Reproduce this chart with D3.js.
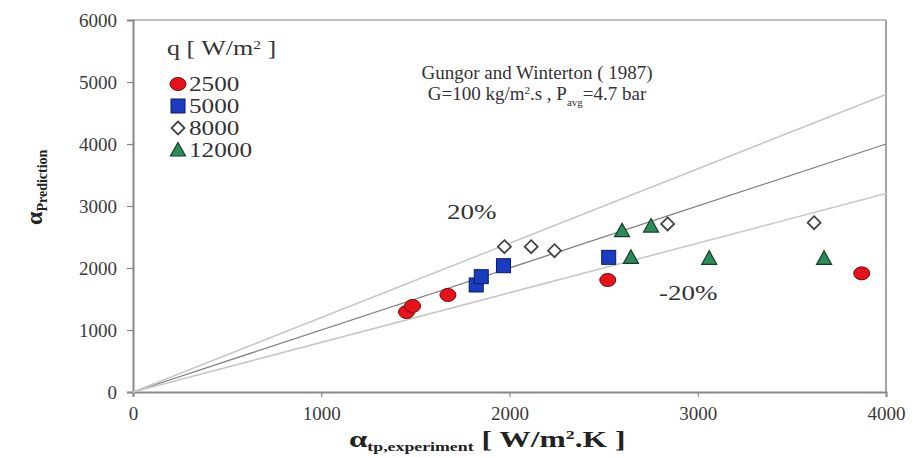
<!DOCTYPE html>
<html>
<head>
<meta charset="utf-8">
<script src="https://cdn.jsdelivr.net/npm/d3@7"></script>
<style>
  body { margin: 0; background: #fff; }
  svg text { font-family: "Liberation Serif", "DejaVu Serif", "Times New Roman", serif !important; }
</style>
</head>
<body>
<svg id="chart" width="914" height="457"></svg>
<script>
// ---- data ----
const xTicks = [0, 1000, 2000, 3000, 4000];
const yTicks = [0, 1000, 2000, 3000, 4000, 5000, 6000];
const seriesNames = ["2500", "5000", "8000", "12000"];
const q2500_x = [1453, 1485, 1673, 2522, 3871];
const q2500_y = [1290, 1387, 1565, 1806, 1914];
const q5000_x = [1823, 1850, 1968, 2527];
const q5000_y = [1726, 1860, 2037, 2172];
const q8000_x = [1973, 2115, 2239, 2840, 3618];
const q8000_y = [2344, 2344, 2279, 2710, 2731];
const q12000_x = [2598, 2752, 2645, 3061, 3671];
const q12000_y = [2602, 2677, 2172, 2156, 2156];
const refFactors = [1.0, 1.2, 0.8];

const FONT = "'Liberation Serif', 'DejaVu Serif', serif";
const svg = d3.select("#chart");
const L = 133, R = 886, T = 20, B = 392;
const x = d3.scaleLinear().domain([0, 4000]).range([L, R]);
const y = d3.scaleLinear().domain([0, 6000]).range([B, T]);

// frame (top & right)
svg.append("line").attr("x1", L).attr("x2", R).attr("y1", T).attr("y2", T)
  .attr("stroke", "#aaa").attr("stroke-width", 1.5);
svg.append("line").attr("x1", R).attr("x2", R).attr("y1", T).attr("y2", B)
  .attr("stroke", "#888").attr("stroke-width", 1.5);

// axes
const xAxis = svg.append("g").attr("transform", `translate(0,${B})`)
  .call(d3.axisBottom(x).tickValues(xTicks).tickSize(5).tickPadding(10).tickFormat(d3.format("d")));
const yAxis = svg.append("g").attr("transform", `translate(${L},0)`)
  .call(d3.axisLeft(y).tickValues(yTicks).tickSize(6).tickPadding(10).tickFormat(d3.format("d")));
[xAxis, yAxis].forEach(g => {
  g.attr("font-family", FONT);
  g.select(".domain").attr("stroke", "#888").attr("stroke-width", 2);
  g.selectAll(".tick line").attr("stroke", "#888").attr("stroke-width", 1.2);
  g.selectAll(".tick text").attr("fill", "#3a3a3a").style("font-size", "19px");
});

// reference lines
refFactors.forEach((f, i) => {
  svg.append("line")
    .attr("x1", x(0)).attr("y1", y(0))
    .attr("x2", x(4000)).attr("y2", y(4000 * f))
    .attr("stroke", i === 0 ? "#808080" : "#c8c8c8")
    .attr("stroke-width", i === 0 ? 1.3 : 1.6);
});

// markers
function drawMarker(g, type, cx, cy) {
  if (type === 0) {
    g.append("ellipse").attr("cx", cx).attr("cy", cy).attr("rx", 8).attr("ry", 6.5)
      .attr("fill", "#e8121a").attr("stroke", "#6a0a0a").attr("stroke-width", 1);
  } else if (type === 1) {
    g.append("rect").attr("x", cx - 7).attr("y", cy - 7).attr("width", 14).attr("height", 14)
      .attr("fill", "#1a3cc0").attr("stroke", "#0a1a60").attr("stroke-width", 1);
  } else if (type === 2) {
    const s = 6.5;
    g.append("path").attr("d", `M${cx},${cy - s}L${cx + s},${cy}L${cx},${cy + s}L${cx - s},${cy}Z`)
      .attr("fill", "#fff").attr("stroke", "#444").attr("stroke-width", 1.8);
  } else {
    const s = 7.5;
    g.append("path").attr("d", `M${cx},${cy - s}L${cx + s},${cy + s * 0.8}L${cx - s},${cy + s * 0.8}Z`)
      .attr("fill", "#2e8b57").attr("stroke", "#10402a").attr("stroke-width", 1.2);
  }
}
const sets = [[q2500_x, q2500_y], [q5000_x, q5000_y], [q8000_x, q8000_y], [q12000_x, q12000_y]];
const pts = svg.append("g");
sets.forEach((s, k) => {
  s[0].forEach((xv, i) => drawMarker(pts, k, x(xv), y(s[1][i])));
});

// stretched text helper (reference text is horizontally widened)
function stext(px, py, sx, size, fill) {
  return svg.append("g").attr("transform", `translate(${px},${py}) scale(${sx},1)`)
    .append("text").attr("x", 0).attr("y", 0).attr("fill", fill || "#333").style("font-size", size + "px");
}

// legend
stext(167, 55, 1.3, 20).html('q [ W/m<tspan baseline-shift="super" font-size="12px">2</tspan> ]');
seriesNames.forEach((n, i) => {
  const yy = 84 + i * 22;
  drawMarker(svg, i, 178, yy);
  stext(189, yy + 7, 1.2, 21).text(n);
});

// annotation
svg.append("text").attr("x", 537).attr("y", 79).attr("text-anchor", "middle").attr("fill", "#333")
  .style("font-size", "19px").text("Gungor and Winterton ( 1987)");
svg.append("text").attr("x", 537).attr("y", 100).attr("text-anchor", "middle").attr("fill", "#333")
  .style("font-size", "19px")
  .html('G=100 kg/m<tspan baseline-shift="super" font-size="11px">2</tspan>.s , P<tspan baseline-shift="sub" font-size="11px">avg</tspan>=4.7 bar');

stext(447, 219, 1.35, 20).text("20%");
stext(659, 300, 1.35, 20).text("-20%");

// axis titles
svg.append("text").attr("transform", "translate(42,225) rotate(-90)").attr("fill", "#222")
  .style("font-size", "24px").style("font-weight", "bold")
  .html('α<tspan font-size="14px" dy="5">Prediction</tspan>');
stext(349, 447, 1.37, 24, "#222").style("font-weight", "bold")
  .html('α<tspan font-size="13px" dy="4">tp,experiment</tspan><tspan font-size="23px" dy="-4"> [ W/m</tspan><tspan font-size="13px" dy="-8">2</tspan><tspan font-size="23px" dy="8">.K ]</tspan>');
</script>
</body>
</html>
